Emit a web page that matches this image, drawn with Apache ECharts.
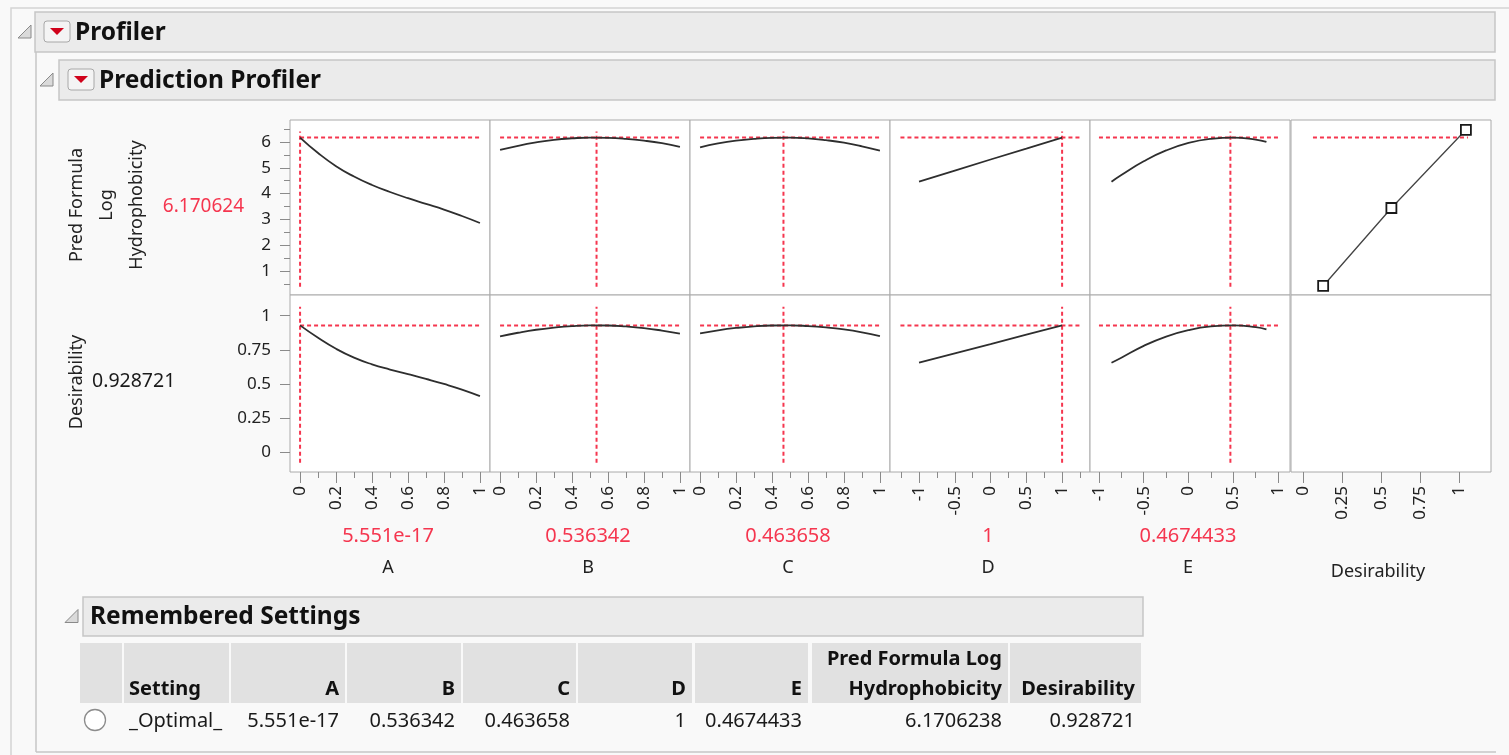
<!DOCTYPE html>
<html>
<head>
<meta charset="utf-8">
<title>Prediction Profiler</title>
<script src="https://cdn.jsdelivr.net/npm/echarts@6/dist/echarts.min.js"></script>
<style>
  html, body { margin: 0; padding: 0; background: #f9f9f9; }
  #profiler { width: 1509px; height: 755px; }
</style>
</head>
<body>
<div id="profiler"></div>
<script>
// current factor settings
var factorNames = ['A', 'B', 'C', 'D', 'E'];
var currentValues = [5.551e-17, 0.536342, 0.463658, 1, 0.4674433];
var currentLabels = ['5.551e-17', '0.536342', '0.463658', '1', '0.4674433'];
var predCurrent = 6.170624;
var desCurrent = 0.928721;

// profile traces
var levelsA = [0, 0.1, 0.2, 0.3, 0.4, 0.5, 0.6, 0.7, 0.8, 0.9, 1];
var predA = [6.17, 5.57, 5.06, 4.66, 4.33, 4.06, 3.82, 3.6, 3.38, 3.13, 2.86];
var desA = [0.929, 0.838, 0.757, 0.692, 0.643, 0.605, 0.571, 0.536, 0.499, 0.458, 0.41];

var levelsB = [0, 0.1, 0.2, 0.3, 0.4, 0.5, 0.6, 0.7, 0.8, 0.9, 1];
var predB = [5.69, 5.85, 5.98, 6.08, 6.14, 6.17, 6.16, 6.12, 6.05, 5.95, 5.81];
var desB = [0.849, 0.875, 0.897, 0.913, 0.924, 0.929, 0.928, 0.921, 0.909, 0.891, 0.869];

var levelsC = [0, 0.1, 0.2, 0.3, 0.4, 0.5, 0.6, 0.7, 0.8, 0.9, 1];
var predC = [5.79, 5.94, 6.05, 6.12, 6.16, 6.17, 6.14, 6.07, 5.97, 5.83, 5.66];
var desC = [0.871, 0.893, 0.91, 0.922, 0.928, 0.929, 0.924, 0.914, 0.899, 0.878, 0.851];

var levelsD = [-1, -0.5, 0, 0.5, 1];
var predD = [4.46, 4.89, 5.32, 5.74, 6.17];
var desD = [0.655, 0.724, 0.792, 0.861, 0.929];

var levelsE = [-0.86, -0.75, -0.5, -0.25, 0, 0.25, 0.5, 0.75, 0.87];
var predE = [4.46, 4.72, 5.25, 5.67, 5.96, 6.12, 6.17, 6.09, 6.0];
var desE = [0.655, 0.692, 0.779, 0.847, 0.894, 0.921, 0.929, 0.916, 0.9];

// desirability function (response vs desirability)
var desFnX = [0.13, 0.565, 1.04];
var desFnY = [0.42, 3.44, 6.47];

// tick values
var predTicks = [1, 2, 3, 4, 5, 6];
var predMinorTicks = [0.5, 1.5, 2.5, 3.5, 4.5, 5.5, 6.5];
var desTicks = [0, 0.25, 0.5, 0.75, 1];
var unitTicks = [0, 0.2, 0.4, 0.6, 0.8, 1];
var unitMinorTicks = [0.1, 0.3, 0.5, 0.7, 0.9];
var dTicks = [-1, -0.5, 0, 0.5, 1];
var dMinorTicks = [-1.25, -0.75, -0.25, 0.25, 0.75, 1.25];
var eTicks = [-1, -0.5, 0, 0.5, 1];
var eMinorTicks = [-0.75, -0.25, 0.25, 0.75];
var desAxisTicks = [0, 0.25, 0.5, 0.75, 1];

// remembered settings table
var tableHeaders = ['', 'Setting', 'A', 'B', 'C', 'D', 'E', 'Pred Formula Log\nHydrophobicity', 'Desirability'];
var tableRow = ['', '_Optimal_', '5.551e-17', '0.536342', '0.463658', '1', '0.4674433', '6.1706238', '0.928721'];

// layout
var colLeft = [290, 490, 690, 890, 1090, 1291];
var colWidth = 200;
var rowTop = [120, 295];
var rowHeight = [175, 177];
var xRanges = [[-0.056, 1.056], [-0.056, 1.056], [-0.056, 1.056], [-1.406, 1.39], [-1.1, 1.133], [-0.075, 1.2]];
var yRanges = [[0.07, 6.85], [-0.147, 1.152]];
var xMajor = [unitTicks, unitTicks, unitTicks, dTicks, eTicks, desAxisTicks];
var xMinor = [unitMinorTicks, unitMinorTicks, unitMinorTicks, dMinorTicks, eMinorTicks, []];
var hExtent = [[0, 1], [0, 1], [0, 1], [-1.26, 1.26], [-1, 1], [0.065, 1.053]];
var vExtent = [[0.39, 6.4], [-0.08, 1.066]];

var profiles = [
  {x: levelsA, pred: predA, des: desA},
  {x: levelsB, pred: predB, des: desB},
  {x: levelsC, pred: predC, des: desC},
  {x: levelsD, pred: predD, des: desD},
  {x: levelsE, pred: predE, des: desE}
];

var font = 'Noto Sans';
var red = '#f5364f';
var tickColor = '#8a8a8a';
var grids = [], xAxes = [], yAxes = [], series = [];

function zip(xs, ys) {
  return xs.map(function (v, i) { return [v, ys[i]]; });
}

function addPanel(row, col) {
  var g = grids.length;
  grids.push({
    left: colLeft[col], top: rowTop[row], width: colWidth, height: rowHeight[row],
    show: true, backgroundColor: '#fff', borderColor: '#aaa', borderWidth: 1
  });
  var bottom = row === 1;
  var xi = xAxes.length;
  xAxes.push({
    gridIndex: g, type: 'value', position: 'bottom', min: xRanges[col][0], max: xRanges[col][1],
    axisLine: {show: false, onZero: false}, splitLine: {show: false},
    axisTick: {show: bottom, customValues: xMajor[col], length: 11, lineStyle: {color: tickColor}},
    axisLabel: {show: bottom, customValues: xMajor[col], rotate: 90, margin: 14,
      fontSize: 17, fontFamily: font, color: '#222'}
  });
  if (bottom && xMinor[col].length) {
    xAxes.push({
      gridIndex: g, type: 'value', position: 'bottom', offset: 0, min: xRanges[col][0], max: xRanges[col][1],
      axisLine: {show: false, onZero: false}, splitLine: {show: false},
      axisTick: {show: true, customValues: xMinor[col], length: 6, lineStyle: {color: tickColor}},
      axisLabel: {show: false}
    });
  }
  var yi = yAxes.length;
  var left = col === 0;
  yAxes.push({
    gridIndex: g, type: 'value', position: 'left', min: yRanges[row][0], max: yRanges[row][1],
    axisLine: {show: false, onZero: false}, splitLine: {show: false},
    axisTick: {show: left, customValues: row === 0 ? predTicks : desTicks, length: 10, lineStyle: {color: tickColor}},
    axisLabel: {show: left, customValues: row === 0 ? predTicks : desTicks, margin: 19,
      fontSize: 17, fontFamily: font, color: '#222'}
  });
  if (left && row === 0) {
    yAxes.push({
      gridIndex: g, type: 'value', position: 'left', offset: 0, min: yRanges[row][0], max: yRanges[row][1],
      axisLine: {show: false, onZero: false}, splitLine: {show: false},
      axisTick: {show: true, customValues: predMinorTicks, length: 6, lineStyle: {color: tickColor}},
      axisLabel: {show: false}
    });
  }
  return {x: xi, y: yi};
}

function dashed(ax, data) {
  series.push({
    type: 'line', xAxisIndex: ax.x, yAxisIndex: ax.y, data: data,
    showSymbol: false, silent: true, z: 2,
    lineStyle: {color: red, width: 2, type: [4, 3]}
  });
}

for (var row = 0; row < 2; row++) {
  for (var col = 0; col < 6; col++) {
    var ax = addPanel(row, col);
    var level = row === 0 ? predCurrent : desCurrent;
    if (col < 5) {
      dashed(ax, [[hExtent[col][0], level], [hExtent[col][1], level]]);
      dashed(ax, [[currentValues[col], vExtent[row][0]], [currentValues[col], vExtent[row][1]]]);
      var p = profiles[col];
      series.push({
        type: 'line', xAxisIndex: ax.x, yAxisIndex: ax.y,
        data: zip(p.x, row === 0 ? p.pred : p.des),
        smooth: col !== 3, showSymbol: false, silent: true, z: 3,
        lineStyle: {color: '#2e2e2e', width: 1.8}
      });
    } else if (row === 0) {
      dashed(ax, [[hExtent[col][0], level], [hExtent[col][1], level]]);
      series.push({
        type: 'line', xAxisIndex: ax.x, yAxisIndex: ax.y,
        data: zip(desFnX, desFnY),
        symbol: 'rect', symbolSize: 10, showSymbol: true, silent: true, z: 3,
        lineStyle: {color: '#444', width: 1.3},
        itemStyle: {color: '#fff', borderColor: '#1a1a1a', borderWidth: 1.8}
      });
    }
  }
}

// page furniture: outline headers, labels and the settings table
function txt(x, y, text, o) {
  o = o || {};
  return {
    type: 'text', x: x, y: y, rotation: o.rotation || 0, z: 10,
    style: {
      text: text, fill: o.color || '#1a1a1a', fontSize: o.size || 18,
      fontWeight: o.bold ? 'bold' : 'normal', fontFamily: font,
      align: o.align || 'left', verticalAlign: o.valign || 'middle',
      lineHeight: o.lineHeight || 28
    }
  };
}

function header(x, y, w, h, triX, title, withButton) {
  var items = [
    {type: 'rect', shape: {x: x, y: y, width: w, height: h},
      style: {fill: '#ebebeb', stroke: '#c6c6c6', lineWidth: 1.5}},
    {type: 'polygon', shape: {points: [[triX + 13, y + h / 2 - 7], [triX + 13, y + h / 2 + 6], [triX, y + h / 2 + 6]]},
      style: {fill: '#dadada', stroke: '#8a8a8a', lineWidth: 1}}
  ];
  var tx = x + 7;
  if (withButton) {
    items.push({type: 'rect', shape: {x: x + 9, y: y + h / 2 - 11, width: 26, height: 21, r: 3},
      style: {fill: '#f4f4f4', stroke: '#a8a8a8', lineWidth: 1}});
    items.push({type: 'polygon', shape: {points: [[x + 15, y + h / 2 - 4], [x + 29, y + h / 2 - 4], [x + 22, y + h / 2 + 3]]},
      style: {fill: '#d0021b'}});
    tx = x + 40;
  }
  items.push(txt(tx, y + h / 2 + 1, title, {bold: true, size: 24.5, color: '#111'}));
  return items;
}

var graphics = [];
graphics.push({type: 'rect', shape: {x: 11, y: 8, width: 1500, height: 760},
  style: {fill: 'none', stroke: '#d4d4d4', lineWidth: 1.5}});
graphics.push({type: 'line', shape: {x1: 36, y1: 52, x2: 36, y2: 752}, style: {stroke: '#c6c6c6', lineWidth: 1.5}});
graphics.push({type: 'line', shape: {x1: 36, y1: 752, x2: 1496, y2: 752}, style: {stroke: '#c6c6c6', lineWidth: 1.5}});
graphics = graphics.concat(header(35, 12, 1460, 40, 18, 'Profiler', true));
graphics = graphics.concat(header(59, 60, 1436, 40, 40, 'Prediction Profiler', true));
graphics = graphics.concat(header(83, 597, 1060, 39, 65, 'Remembered Settings', false));

// response labels on the left
graphics.push(txt(107, 205, 'Pred Formula\nLog\nHydrophobicity', {rotation: Math.PI / 2, align: 'center', size: 18, color: '#222', lineHeight: 30}));
graphics.push(txt(244, 207, String(predCurrent), {align: 'right', size: 19, color: red}));
graphics.push(txt(77, 382, 'Desirability', {rotation: Math.PI / 2, align: 'center', size: 18, color: '#222'}));
graphics.push(txt(92, 381, String(desCurrent), {size: 19.5, color: '#1a1a1a'}));

// factor values and names under the axes
for (var i = 0; i < factorNames.length; i++) {
  var cx = colLeft[i] + colWidth / 2 - 2;
  graphics.push(txt(cx, 536, currentLabels[i], {align: 'center', size: 20, color: red}));
  graphics.push(txt(cx, 568, factorNames[i], {align: 'center', size: 18, color: '#222'}));
}
graphics.push(txt(1378, 572, 'Desirability', {align: 'center', size: 18, color: '#222'}));

// table
var cellX = [80, 124, 231, 347, 463, 578, 695, 812, 1010];
var cellW = [42, 105, 114, 114, 113, 114, 113, 196, 131];
for (var c = 0; c < cellX.length; c++) {
  graphics.push({type: 'rect', shape: {x: cellX[c], y: 643, width: cellW[c], height: 60}, style: {fill: '#e1e1e1'}});
  if (c === 0) continue;
  var alignLeft = c === 1;
  var hx = alignLeft ? cellX[c] + 5 : cellX[c] + cellW[c] - 6;
  graphics.push(txt(hx, 704, tableHeaders[c], {bold: true, size: 20, align: alignLeft ? 'left' : 'right', valign: 'bottom', lineHeight: 30, color: '#111'}));
  graphics.push(txt(hx, 721, tableRow[c], {size: 20, align: alignLeft ? 'left' : 'right', color: '#1a1a1a'}));
}
graphics.push({type: 'circle', shape: {cx: 95, cy: 720, r: 10.5}, style: {fill: '#fff', stroke: '#8c8c8c', lineWidth: 1.3}});

var chart = echarts.init(document.getElementById('profiler'));
chart.setOption({
  animation: false,
  backgroundColor: '#f9f9f9',
  grid: grids,
  xAxis: xAxes,
  yAxis: yAxes,
  series: series,
  graphic: graphics
});
window.addEventListener('resize', chart.resize);
</script>
</body>
</html>
